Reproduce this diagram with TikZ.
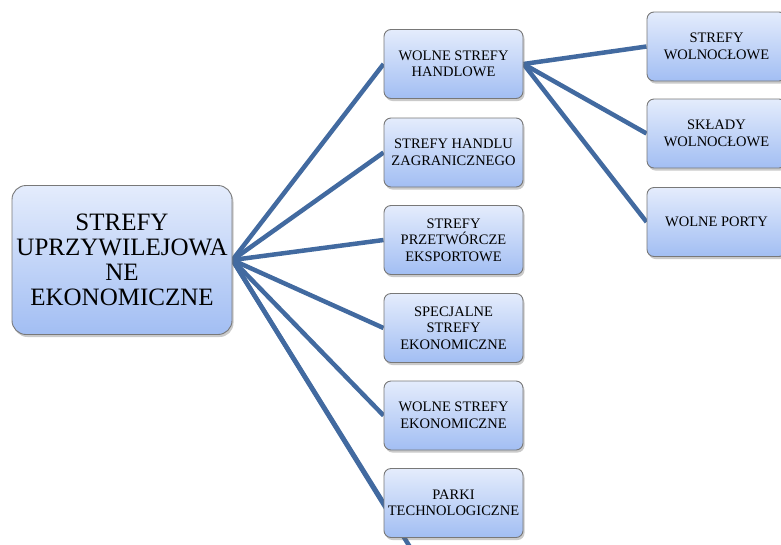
\documentclass[tikz,border=0pt]{standalone}
\usepackage{fontspec}
\setmainfont{Liberation Serif}
\usetikzlibrary{shadows}
\pgfdeclarelayer{bg}
\pgfsetlayers{bg,main}
\definecolor{lineblue}{RGB}{66,106,160}
\definecolor{boxtop}{RGB}{228,236,252}
\definecolor{boxbot}{RGB}{162,190,243}
\definecolor{boxedge}{RGB}{120,120,120}
\tikzset{
 box/.style={draw=boxedge, line width=0.9pt, rounded corners=7pt, top color=boxtop, bottom color=boxbot,
   align=center, inner sep=0pt, font=\fontsize{14.5}{16.5}\selectfont,
   drop shadow={shadow xshift=1.5pt, shadow yshift=-2.5pt, opacity=0.35, fill=black!60}},
 midbox/.style={box, minimum width=139pt, minimum height=69pt},
 rootbox/.style={box, minimum width=220pt, minimum height=149pt, rounded corners=14pt, font=\fontsize{25}{25}\selectfont},
 conn/.style={draw=lineblue, line width=4.5pt},
}
\begin{document}
\begin{tikzpicture}[x=1pt,y=-1pt]
\useasboundingbox (0,0) rectangle (781,544);
\node[rootbox] (root) at (122,260) {STREFY\\UPRZYWILEJOWA\\NE\\EKONOMICZNE};
\node[midbox] (m1) at (453.5,64) {WOLNE STREFY\\HANDLOWE};
\node[midbox] (m2) at (453.5,152.5) {STREFY HANDLU\\ZAGRANICZNEGO};
\node[midbox] (m3) at (453.5,240) {STREFY\\PRZETWÓRCZE\\EKSPORTOWE};
\node[midbox] (m4) at (453.5,328) {SPECJALNE\\STREFY\\EKONOMICZNE};
\node[midbox] (m5) at (453.5,415.5) {WOLNE STREFY\\EKONOMICZNE};
\node[midbox] (m6) at (453.5,503) {PARKI\\TECHNOLOGICZNE};
\node[midbox] (r1) at (716.5,46.5) {STREFY\\WOLNOCŁOWE};
\node[midbox] (r2) at (716.5,133.5) {SKŁADY\\WOLNOCŁOWE};
\node[midbox] (r3) at (716.5,222) {WOLNE PORTY};
\coordinate (offb) at (418,560);
\begin{pgfonlayer}{bg}
\foreach \m in {m1,m2,m3,m4,m5,m6} \draw[conn] (root.east) -- (\m.west);
\draw[conn] (root.east) -- (offb);
\foreach \r in {r1,r2,r3} \draw[conn] (m1.east) -- (\r.west);
\end{pgfonlayer}
\end{tikzpicture}
\end{document}
